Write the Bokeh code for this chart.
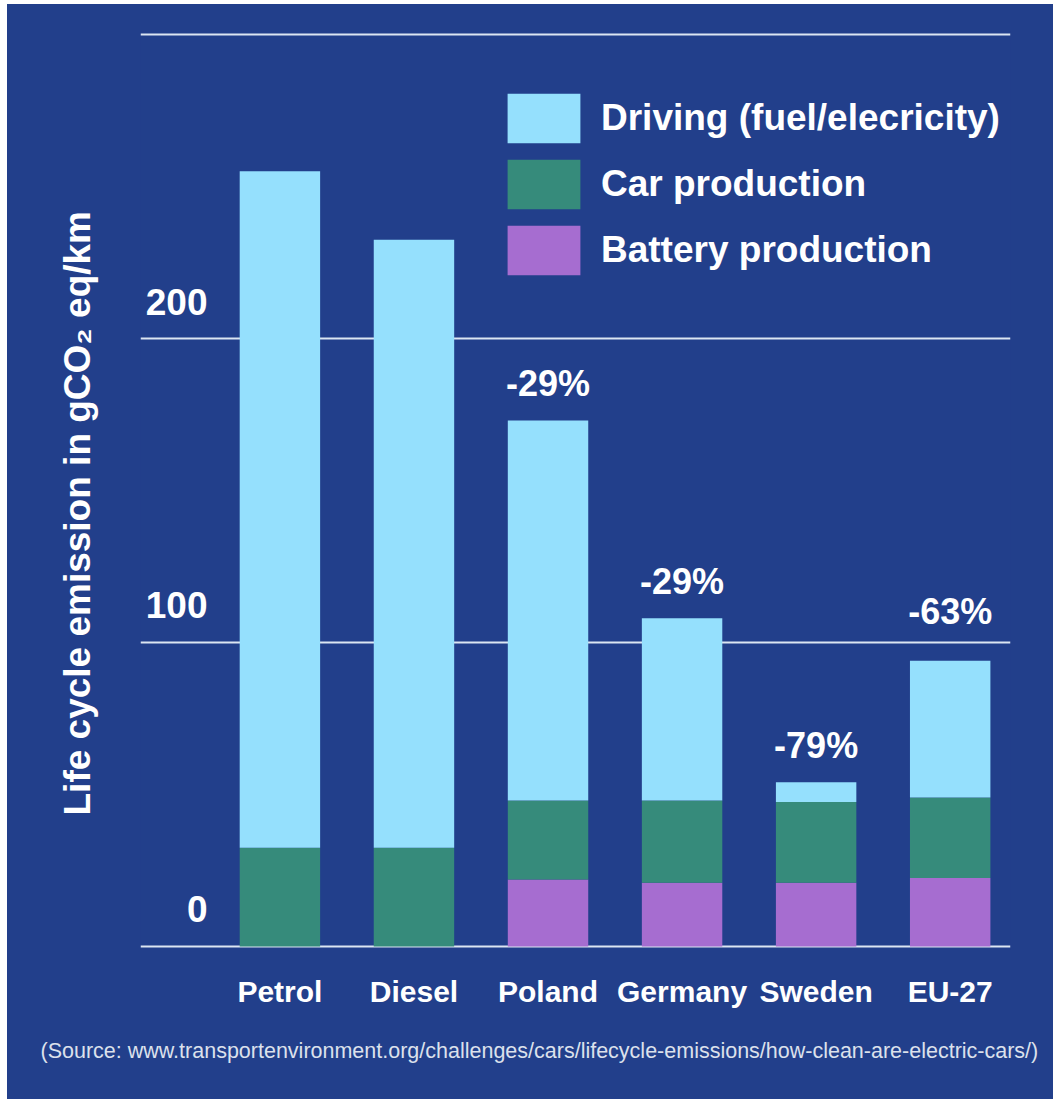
import math
from bokeh.plotting import figure
from bokeh.models import Range1d, FixedTicker, Legend, LegendItem, Title, ColumnDataSource, Spacer
from bokeh.layouts import column, row
from bokeh.core.properties import value
from bokeh.embed import file_html
from bokeh.resources import INLINE

# ---------------- data ----------------
categories = ["Petrol", "Diesel", "Poland", "Germany", "Sweden", "EU-27"]
battery = [0, 0, 22, 21, 21, 22.5]
car = [32.5, 32.5, 26, 27, 26.5, 26.5]
driving = [222.5, 200, 125, 60, 6.5, 45]
savings = [None, None, "-29%", "-29%", "-79%", "-63%"]
series_names = ["Battery production", "Car production", "Driving (fuel/elecricity)"]
y_ticks = [0, 100, 200, 300]
y_tick_labels = ["0", "100", "200"]
y_title = "Life cycle emission in gCO\u2082 eq/km"
source_note = "(Source: www.transportenvironment.org/challenges/cars/lifecycle-emissions/how-clean-are-electric-cars/)"

# ---------------- style ----------------
BG = "#223F8B"
COLORS = ["#A66DD0", "#368B7B", "#95E0FD"]
GRID = "#DCE6F2"
FONT = "Liberation Sans"
pct_gap_px = [37, 37, 37, 49]

x_idx = list(range(len(categories)))
src = ColumnDataSource(dict(x=x_idx, battery=battery, car=car, driving=driving))

p = figure(width=1046, height=1095, x_range=Range1d(-1.04, 5.45), y_range=Range1d(-1, 301),
           output_backend="svg", toolbar_location=None, min_border=0)
p.min_border_left = 133
p.min_border_right = 43
p.min_border_top = 27
p.min_border_bottom = 150
p.background_fill_color = BG
p.border_fill_color = BG
p.outline_line_color = None
p.styles = {"background-color": BG}

rs = p.vbar_stack(["battery", "car", "driving"], x="x", width=0.6, fill_color=COLORS,
                  line_color=None, source=src)

p.xgrid.visible = False
p.ygrid.ticker = FixedTicker(ticks=y_ticks)
p.ygrid.grid_line_color = GRID
p.ygrid.grid_line_width = 2
p.yaxis.visible = False

xa = p.xaxis[0]
xa.ticker = FixedTicker(ticks=x_idx)
xa.major_label_overrides = {i: c for i, c in enumerate(categories)}
xa.axis_line_color = None
xa.major_tick_line_color = None
xa.minor_tick_line_color = None
xa.major_tick_out = 0
xa.major_tick_in = 0
xa.major_label_standoff = 25
xa.major_label_text_font = FONT
xa.major_label_text_font_style = "bold"
xa.major_label_text_font_size = "30px"
xa.major_label_text_color = "white"

# y tick labels sit above their gridlines
tick_src = ColumnDataSource(dict(x=[p.x_range.start] * len(y_tick_labels),
                                 y=y_ticks[:len(y_tick_labels)], t=y_tick_labels))
p.text(x="x", y="y", text="t", source=tick_src, x_offset=67, y_offset=-37,
       text_align="right", text_baseline="alphabetic", text_font=value(FONT),
       text_font_style="bold", text_font_size="37px", text_color="white")

# reduction labels above EV bars
pct_idx = [i for i, s in enumerate(savings) if s]
pct_src = ColumnDataSource(dict(
    x=pct_idx,
    y=[battery[i] + car[i] + driving[i] for i in pct_idx],
    t=[savings[i] for i in pct_idx],
    off=[-g for g in pct_gap_px],
))
p.text(x="x", y="y", text="t", source=pct_src, y_offset="off", text_align="center",
       text_baseline="alphabetic", text_font=value(FONT), text_font_style="bold",
       text_font_size="36px", text_color="white")

legend = Legend(items=[LegendItem(label=series_names[2], renderers=[rs[2]]),
                       LegendItem(label=series_names[1], renderers=[rs[1]]),
                       LegendItem(label=series_names[0], renderers=[rs[0]])],
                location=(358, 668), glyph_width=91, glyph_height=62, label_height=62,
                spacing=4, padding=0, margin=0, label_standoff=12,
                label_text_font=FONT, label_text_font_style="bold",
                label_text_font_size="37px", label_text_color="white",
                background_fill_alpha=0, border_line_color=None)
p.add_layout(legend)

p.add_layout(Title(text=y_title, align="left", offset=134, vertical_align="bottom",
                   standoff=86, text_font=FONT, text_font_style="bold",
                   text_font_size="37px", text_color="white"), "left")
p.add_layout(Title(text=source_note, align="left", offset=-100, vertical_align="top",
                   standoff=56, text_font=FONT, text_font_style="normal",
                   text_font_size="21.5px", text_color="#DCE1EC"), "below")

layout = column(Spacer(width=1053, height=4), row(Spacer(width=7, height=1095), p))
open("out.html", "w").write(file_html(layout, INLINE))
